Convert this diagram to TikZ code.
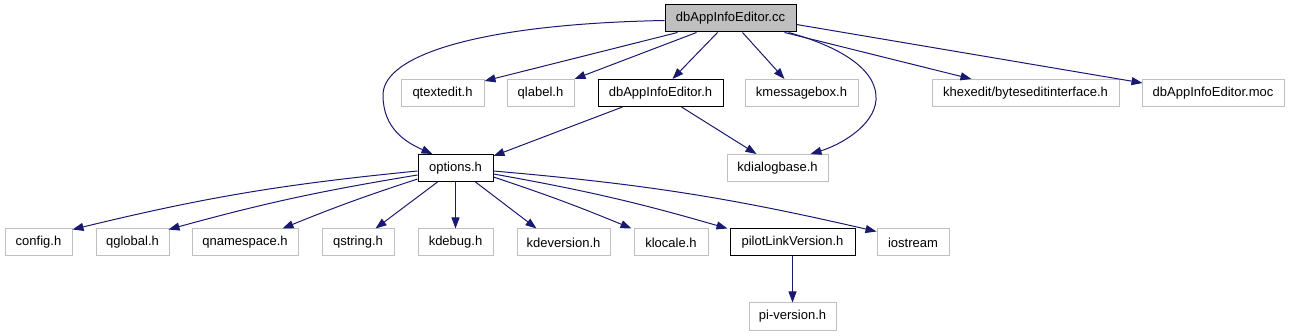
\documentclass[tikz,border=0pt]{standalone}
\usepackage{fontspec}
\setmainfont{Liberation Sans}
\usetikzlibrary{arrows.meta,calc}
\definecolor{edge}{HTML}{191970}
\definecolor{gborder}{HTML}{BFBFBF}
\definecolor{gfill}{HTML}{BFBFBF}
\begin{document}
\begin{tikzpicture}[x=1pt,y=-1pt,
  box/.style={draw=gborder,line width=1pt,fill=white,minimum height=27pt,inner sep=0pt,font=\fontsize{13}{15}\selectfont},
  boxb/.style={box,draw=black},
  rootbox/.style={box,draw=black,fill=gfill},
  dep/.style={draw=edge,line width=1pt,-{Triangle[length=11pt,width=8pt]}}]
\useasboundingbox (0,0) rectangle (1289,336);
% row 1
\node[rootbox,minimum width=131pt] (cc) at (730.5,18.5) {dbAppInfoEditor.cc};
% row 2
\node[box,minimum width=83pt] (qtextedit) at (442.5,93) {qtextedit.h};
\node[box,minimum width=67pt] (qlabel) at (540.5,93) {qlabel.h};
\node[boxb,minimum width=125pt] (dbh) at (660.5,93) {dbAppInfoEditor.h};
\node[box,minimum width=113pt] (kmsg) at (801.5,93) {kmessagebox.h};
\node[box,minimum width=187pt] (khex) at (1025.5,93) {khexedit/byteseditinterface.h};
\node[box,minimum width=142pt] (moc) at (1213,93) {dbAppInfoEditor.moc};
% row 3
\node[boxb,minimum width=75pt] (options) at (455.5,168) {options.h};
\node[box,minimum width=101pt] (kdlg) at (777.5,168) {kdialogbase.h};
% row 4
\node[box,minimum width=67pt] (config) at (38.5,242.5) {config.h};
\node[box,minimum width=73pt] (qglobal) at (132.5,242.5) {qglobal.h};
\node[box,minimum width=106pt] (qns) at (245,242.5) {qnamespace.h};
\node[box,minimum width=72pt] (qstring) at (358,242.5) {qstring.h};
\node[box,minimum width=75pt] (kdebug) at (455.5,242.5) {kdebug.h};
\node[box,minimum width=93pt] (kdever) at (563.5,242.5) {kdeversion.h};
\node[box,minimum width=74pt] (klocale) at (671,242.5) {klocale.h};
\node[boxb,minimum width=125pt] (pilot) at (792.5,242.5) {pilotLinkVersion.h};
\node[box,minimum width=72pt] (iostream) at (913,242.5) {iostream};
% row 5
\node[box,minimum width=87pt] (piver) at (792.5,316.5) {pi-version.h};

% edges from cc
\draw[dep] ($(cc.west)+(0,2)$) .. controls (480,24) and (383,55) .. (383,95)
  .. controls (383,128) and (405,142) .. ($(options.north west)+(15,0)$);
\draw[dep] ($(cc.south west)+(13,0)$) -- ($(qtextedit.north east)+(0,2)$);
\draw[dep] ($(cc.south west)+(32,0)$) -- (qlabel.north east);
\draw[dep] ($(cc.south west)+(53,0)$) -- ($(dbh.north)+(12,0)$);
\draw[dep] ($(cc.south west)+(78,0)$) -- ($(kmsg.north west)+(40,0)$);
\draw[dep] ($(cc.south east)+(-8,0)$) .. controls (845,48) and (878,72) .. (876,100)
  .. controls (874,126) and (840,145) .. ($(kdlg.north east)+(-18,0)$);
\draw[dep] ($(cc.south east)+(-12,0)$) -- ($(khex.north west)+(40,0)$);
\draw[dep] ($(cc.east)+(0,6)$) -- ($(moc.north west)+(1,4)$);
% edges from dbh
\draw[dep] ($(dbh.south west)+(25,0)$) -- ($(options.north east)+(0,2)$);
\draw[dep] ($(dbh.south west)+(84,0)$) -- ($(kdlg.north west)+(30,0)$);
% edges from options
\draw[dep] ($(options.west)+(0,3)$) to[bend right=4] ($(config.north east)+(0,1)$);
\draw[dep] ($(options.west)+(0,7)$) to[bend right=3] ($(qglobal.north east)+(-1,1)$);
\draw[dep] ($(options.west)+(0,11)$) to[bend right=2] ($(qns.north east)+(-16,0)$);
\draw[dep] ($(options.south west)+(20,0)$) -- ($(qstring.north east)+(-19,0)$);
\draw[dep] (options.south) -- (kdebug.north);
\draw[dep] ($(options.south east)+(-18,0)$) -- ($(kdever.north west)+(20,0)$);
\draw[dep] ($(options.east)+(0,9)$) to[bend left=2] ($(klocale.north west)+(-2,0)$);
\draw[dep] ($(options.east)+(0,6)$) to[bend left=3] ($(pilot.north west)+(-2,0)$);
\draw[dep] ($(options.east)+(0,3)$) to[bend left=4] ($(iostream.north west)+(0,3)$);
% pilot -> pi-version
\draw[dep] (pilot.south) -- (piver.north);
\end{tikzpicture}
\end{document}
